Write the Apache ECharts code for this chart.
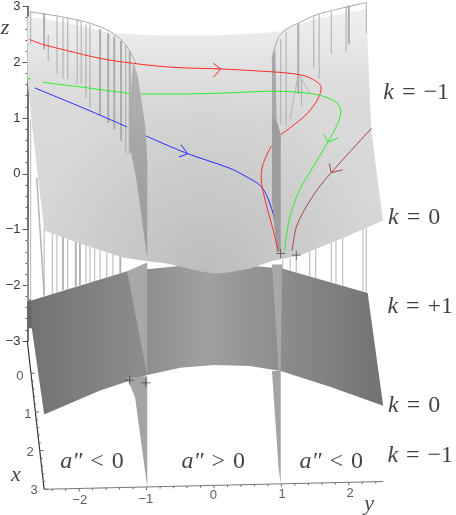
<!DOCTYPE html>
<html>
<head>
<meta charset="utf-8">
<style>
  html, body { margin: 0; padding: 0; background: #fff; }
  #chart { width: 456px; height: 515px; }
</style>
</head>
<body>
<div id="chart"></div>
<script src="https://cdn.jsdelivr.net/npm/echarts@6/dist/echarts.min.js"></script>
<script>
// every point below is [y, z]

const zTicks = [-3, -2, -1, 0, 1, 2, 3]
const yTickLabels = [['\u22122', -1.99, -5.86], ['\u22121', -1.01, -5.84], ['0', -0.01, -5.77], ['1', 1.01, -5.75], ['2', 2.02, -5.73]]
const xTickLabels = [['0', -2.88, -3.63], ['1', -2.76, -4.32], ['2', -2.73, -5.0], ['3', -2.67, -5.68]]
const yMajorTicks = [-2, -1, 0, 1, 2]
const yMinorTicks = [-2.4, -2.2, -1.8, -1.6, -1.4, -1.2, -0.8, -0.6, -0.4, -0.2, 0.2, 0.4, 0.6, 0.8, 1.2, 1.4, 1.6, 1.8, 2.2, 2.4]
const xMajorTicks = [0, 1, 2, 3]
const xMinorTicks = [0.2, 0.4, 0.6, 0.8, 1.2, 1.4, 1.6, 1.8, 2.2, 2.4, 2.6, 2.8]

const upperSurface = [
  [-2.77, 2.82], [-2.14, 2.70], [-1.54, 2.52], [-0.80, 2.48], [0, 2.48], [0.68, 2.52], [0.95, 2.55], [1.54, 2.79], [2.26, 2.95],
  [2.33, 0.82], [2.42, -0.04], [2.51, -0.84],
  [1.94, -1.14], [1.28, -1.46], [0.85, -1.57], [0.53, -1.70], [0.21, -1.77], [0, -1.79], [-0.21, -1.75], [-0.70, -1.61], [-0.99, -1.57], [-1.35, -1.50], [-1.99, -1.25], [-2.52, -1.02],
  [-2.69, 0.77], [-2.77, 1.71]
]
const lowerSurface = [
  [-2.76, -2.29], [-1.29, -1.75], [0, -1.59], [1.01, -1.70], [2.28, -2.14],
  [2.51, -4.16], [1.72, -3.82], [0.99, -3.54], [0.53, -3.45], [0, -3.43], [-0.50, -3.48], [-0.99, -3.61], [-1.69, -3.89], [-2.52, -4.32]
]
const lowerSliver = [[-2.77, -2.32], [-2.72, -2.23], [-2.70, -2.77], [-2.77, -2.77]]

const leftFinUpper = [[-1.20, 2.02], [-1.13, 1.75], [-1.02, 0.86], [-0.99, 0.23], [-0.99, -1.52], [-1.16, -0.04], [-1.25, 0.50], [-1.26, 1.13]]
const leftFinMiddle = [[-1.29, -1.75], [-0.99, -1.59], [-0.99, -3.61]]
const leftFinTip = [[-1.29, -3.66], [-0.99, -3.63], [-0.99, -5.63], [-1.17, -4.02]]
const rightFinStrip = [[0.86, 2.07], [0.91, 2.25], [0.92, 1.48], [0.93, 0.95], [0.86, 0.95]]
const rightFinUpper = [[0.86, 1.0], [0.93, 0.95], [0.99, 0.71], [0.99, -1.41], [0.93, -1.41], [0.86, -0.48]]
const rightFinMiddle = [[0.86, -1.63], [1.01, -1.63], [0.99, -3.55], [0.96, -3.55]]
const rightFinTip = [[0.86, -3.54], [0.99, -3.54], [0.99, -5.55], [0.96, -5.30]]

const leftOutline = [[-2.77, 2.91], [-2.28, 2.82], [-1.84, 2.70], [-1.54, 2.55], [-1.36, 2.38], [-1.25, 2.20], [-1.16, 1.98]]
const rightOutline = [[0.86, 2.07], [0.95, 2.43], [1.07, 2.59], [1.25, 2.70], [1.54, 2.86], [2.26, 3.07]]

// [y, top z, bottom z]
const upperHairs = [
  [-2.72, 2.91, 2.32], [-2.46, 2.50, 2.02], [-2.33, 2.82, 1.80], [-2.24, 2.79, 1.71], [-2.17, 2.79, 1.70],
  [-2.03, 2.77, 1.61], [-1.97, 2.73, 1.61], [-1.90, 2.68, 1.36], [-1.84, 2.68, 1.18],
  [-1.31, 2.29, 0.36],
  [0.99, 2.41, 0.89], [1.07, 2.55, 0.86], [1.30, 1.71, 1.21], [1.48, 2.82, 1.89],
  [1.56, 2.86, 1.71], [1.74, 2.91, 2.16], [1.96, 3.0, 2.20], [2.26, 3.07, 2.52]
]
const thickHairs = [
  [-2.52, 2.88, 2.23], [-1.69, 2.59, 1.04], [-1.57, 2.52, 0.91], [-1.48, 2.46, 0.80], [-1.38, 2.38, 0.59],
  [-1.25, 2.20, 0.36], [1.25, 2.70, 1.43], [2.00, 3.02, 2.32]
]
const lowerHairs = [
  [-2.76, -1.02, -2.29], [-2.72, 0.98, -2.25], [-2.52, -0.98, -2.20], [-2.40, -1.07, -2.16], [-2.33, -1.09, -2.13],
  [-2.17, -1.16, -2.07], [-1.90, -1.27, -1.96], [-1.84, -1.30, -1.95], [-1.77, -1.32, -1.93], [-1.69, -1.36, -1.89],
  [-1.59, -1.39, -1.86], [-1.50, -1.43, -1.82],
  [1.02, -1.55, -1.70], [1.13, -1.52, -1.73], [1.22, -1.48, -1.77], [1.42, -1.39, -1.84], [1.51, -1.34, -1.88],
  [1.74, -1.23, -1.95], [1.81, -1.20, -1.98], [1.91, -1.14, -2.02], [2.21, -0.98, -2.11], [2.26, -0.96, -2.13]
]
const lowerThickHairs = [[-2.24, -1.13, -2.09], [-2.05, -1.21, -2.02], [-1.99, -1.23, -2.00], [-1.39, -1.46, -1.79]]
const leaningHairA = [[1.25, 1.79], [1.42, 1.45]]
const leaningHairB = [[1.25, 1.79], [1.13, 1.00]]
const leaningHairC = [[-2.63, -0.07], [-2.52, -2.18]]

const redStart = [
  [-2.74, 2.41], [-2.54, 2.32], [-2.18, 2.21], [-1.69, 2.07], [-1.20, 1.98], [-0.61, 1.91], [0.09, 1.88], [0.70, 1.84], [1.20, 1.79],
  [1.44, 1.71], [1.59, 1.54], [1.54, 1.34], [1.39, 1.09], [1.20, 0.89], [0.99, 0.70]
]
const redEnd = [[0.85, 0.50], [0.73, 0.18], [0.70, -0.07], [0.76, -0.48], [0.88, -1.02], [0.95, -1.38]]
const greenStub = [[-2.76, 1.71], [-2.72, 1.70]]
const greenMain = [
  [-2.54, 1.64], [-1.94, 1.55], [-1.50, 1.48], [-1.10, 1.43], [-0.61, 1.43], [0.21, 1.45], [0.85, 1.48], [1.35, 1.45], [1.65, 1.38],
  [1.84, 1.25], [1.88, 1.09], [1.84, 0.91], [1.69, 0.57], [1.50, 0.18], [1.28, -0.27], [1.14, -0.71], [1.07, -1.14], [1.05, -1.38]
]
const blueStart = [[-2.66, 1.54], [-1.94, 1.18], [-1.29, 0.84]]
const blueEnd = [[-1.07, 0.71], [-0.39, 0.36], [0.21, 0.11], [0.46, -0.04], [0.70, -0.23], [0.83, -0.54], [0.91, -0.89], [0.96, -1.34]]
const brownCurve = [[2.34, 0.82], [2.03, 0.41], [1.74, 0.02], [1.54, -0.27], [1.35, -0.63], [1.22, -0.96], [1.16, -1.38]]

const redArrow = [[-0.01, 1.98], [0.10, 1.88], [-0.01, 1.73]]
const blueArrow = [[-0.49, 0.52], [-0.39, 0.36], [-0.52, 0.30]]
const greenArrow = [[1.63, 0.71], [1.69, 0.57], [1.84, 0.64]]
const brownArrow = [[1.71, 0.18], [1.74, 0.02], [1.91, 0.07]]

const crossings = [[0.99, -1.43], [1.22, -1.46], [-1.25, -3.70], [-1.01, -3.75]]

const mathLabels = [
  ['{i|k}{r|\u2004=\u2004\u22121}', 3.0, 1.46], ['{i|k}{r|\u2004=\u20040}', 2.97, -0.79], ['{i|k}{r|\u2004=\u2004+1}', 3.06, -2.39],
  ['{i|k}{r|\u2004=\u20040}', 2.97, -4.16], ['{i|k}{r|\u2004=\u2004\u22121}', 3.06, -5.05],
  ['{i|a\u2033}{r|\u2004<\u20040}', -1.81, -5.16], ['{i|a\u2033}{r|\u2004>\u20040}', -0.01, -5.16], ['{i|a\u2033}{r|\u2004<\u20040}', 1.74, -5.16]
]
const axisNames = [['z', -3.1, 2.61], ['x', -2.94, -5.41], ['y', 2.30, -5.93]]

const bottomAxisLine = [[-2.52, -5.66], [2.51, -5.52]]
const depthAxisLine = [[-2.77, -3.0], [-2.52, -5.66]]

// the two tilted axes have no echarts axis, ticks are placed along them
const bottomPoint = y => [y, -5.66 + (y + 2.5) * 0.028]
const depthPoint = d => [-2.72 + d * 0.066, -3.58 - d * 0.693]

const chart = echarts.init(document.getElementById('chart'))
let order = 1

function polygon(name, points, fill) {
  return {
    type: 'custom',
    name: name,
    z: order++,
    silent: true,
    data: points,
    renderItem(params, api) {
      if (params.dataIndex !== 0) return
      return {
        type: 'polygon',
        shape: { points: points.map(p => api.coord(p)) },
        style: { fill: fill }
      }
    }
  }
}

function hairs(name, rows, color, width) {
  return {
    type: 'custom',
    name: name,
    z: order++,
    silent: true,
    data: rows,
    encode: { x: 0, y: [1, 2] },
    renderItem(params, api) {
      const a = api.coord([api.value(0), api.value(1)])
      const b = api.coord([api.value(0), api.value(2)])
      return {
        type: 'line',
        shape: { x1: a[0], y1: a[1], x2: b[0], y2: b[1] },
        style: { stroke: color, lineWidth: width }
      }
    }
  }
}

function curve(name, points, color, width, smooth) {
  return {
    type: 'line',
    name: name,
    z: order++,
    silent: true,
    clip: false,
    animation: false,
    data: points,
    showSymbol: false,
    smooth: smooth,
    lineStyle: { color: color, width: width }
  }
}

function ticks(name, points, dx, dy) {
  return {
    type: 'custom',
    name: name,
    z: order++,
    silent: true,
    data: points,
    renderItem(params, api) {
      const a = api.coord([api.value(0), api.value(1)])
      return {
        type: 'line',
        shape: { x1: a[0], y1: a[1], x2: a[0] + dx, y2: a[1] + dy },
        style: { stroke: '#666', lineWidth: 1 }
      }
    }
  }
}

function textLabels(name, rows, label) {
  return {
    type: 'scatter',
    name: name,
    z: order++,
    silent: true,
    clip: false,
    animation: false,
    symbolSize: 0,
    data: rows.map(r => ({ value: [r[1], r[2]], text: r[0] })),
    label: Object.assign({
      show: true,
      position: 'inside',
      formatter: p => p.data.text
    }, label)
  }
}

const upperFill = new echarts.graphic.LinearGradient(0, 0, 0, 1, [
  { offset: 0, color: '#efefef' },
  { offset: 0.09, color: '#ebebeb' },
  { offset: 0.17, color: '#e4e4e4' },
  { offset: 0.26, color: '#dedede' },
  { offset: 0.4, color: '#d9d9d9' },
  { offset: 1, color: '#d8d8d8' }
])
const upperShade = new echarts.graphic.RadialGradient(0.5, 1, 0.72, [
  { offset: 0, color: 'rgba(0,0,0,0.13)' },
  { offset: 1, color: 'rgba(0,0,0,0)' }
])
const lowerFill = new echarts.graphic.LinearGradient(0, 0, 1, 0, [
  { offset: 0, color: '#727272' },
  { offset: 0.3, color: '#8a8a8a' },
  { offset: 0.5, color: '#a0a0a0' },
  { offset: 0.72, color: '#8c8c8c' },
  { offset: 1, color: '#727272' }
])
const finFill = new echarts.graphic.LinearGradient(0, 0, 0, 1, [
  { offset: 0, color: '#b4b4b4' },
  { offset: 0.5, color: '#a4a4a4' },
  { offset: 1, color: '#9a9a9a' }
])

const serif = 'Liberation Serif'
const sans = 'Liberation Sans'

chart.setOption({
  animation: false,
  backgroundColor: '#fff',
  // x range is wide enough to hold the marks left of the drawn axis, line series stop at the grid edge otherwise
  grid: { left: 5.06, right: 12.84, top: 5, bottom: 174 },
  xAxis: { type: 'value', min: -3.1, max: 3.4, show: false },
  yAxis: {
    type: 'value',
    min: zTicks[0],
    max: zTicks[zTicks.length - 1],
    interval: 1,
    offset: -22.44,
    axisLine: { show: true, onZero: false, lineStyle: { color: '#444', width: 1.5 } },
    axisTick: { show: true, length: 5, lineStyle: { color: '#555' } },
    minorTick: { show: true, splitNumber: 5, length: 2, lineStyle: { color: '#555' } },
    splitLine: { show: false },
    axisLabel: {
      margin: 7,
      fontFamily: sans,
      fontSize: 13,
      color: '#333',
      showMinLabel: true,
      showMaxLabel: true,
      formatter: v => String(v).replace('-', '\u2212')
    }
  },
  series: [
    hairs('lower hairs', lowerHairs, '#b4b4b4', 1),
    hairs('lower thick hairs', lowerThickHairs, '#b4b4b4', 2),
    curve('lean c', leaningHairC, '#b4b4b4', 1.5, false),
    polygon('k=+1 surface', lowerSurface, lowerFill),
    polygon('sliver', lowerSliver, '#666666'),
    polygon('left fin middle', leftFinMiddle, '#a8a8a8'),
    polygon('right fin middle', rightFinMiddle, '#a8a8a8'),
    polygon('left fin tip', leftFinTip, '#a4a4a4'),
    polygon('right fin tip', rightFinTip, '#a4a4a4'),
    polygon('k=-1 surface', upperSurface, upperFill),
    polygon('k=-1 shade', upperSurface, upperShade),
    curve('left outline', leftOutline, '#a8a8a8', 1, 0.3),
    curve('right outline', rightOutline, '#a8a8a8', 1, 0.3),
    hairs('upper hairs', upperHairs, '#acacac', 1),
    hairs('thick hairs', thickHairs, '#acacac', 2),
    curve('lean a', leaningHairA, '#b4b4b4', 1, false),
    curve('lean b', leaningHairB, '#b4b4b4', 1, false),
    polygon('right fin strip', rightFinStrip, '#a8a8a8'),
    curve('red', redStart, '#ff2a2a', 1, 0.35),
    curve('green', greenMain, '#2cee2c', 1, 0.35),
    curve('green stub', greenStub, '#2cee2c', 1, false),
    curve('blue', blueStart, '#2a2aff', 1, 0.3),
    curve('blue', blueEnd, '#2a2aff', 1, 0.35),
    curve('brown', brownCurve, '#a84444', 1, 0.3),
    polygon('left fin upper', leftFinUpper, finFill),
    polygon('right fin upper', rightFinUpper, '#9c9c9c'),
    curve('red', redEnd, '#ff2a2a', 1, 0.35),
    curve('red arrow', redArrow, '#ff2a2a', 1, false),
    curve('blue arrow', blueArrow, '#2a2aff', 1, false),
    curve('green arrow', greenArrow, '#2cee2c', 1, false),
    curve('brown arrow', brownArrow, '#a84444', 1, false),
    {
      type: 'scatter',
      name: 'crossings',
      z: order++,
      silent: true,
      clip: false,
      symbol: 'path://M4.6 0H5.4V4.6H10V5.4H5.4V10H4.6V5.4H0V4.6H4.6Z',
      symbolSize: 9,
      itemStyle: { color: '#222' },
      data: crossings
    },
    curve('y axis', bottomAxisLine, '#777', 1, false),
    curve('x axis', depthAxisLine, '#333', 1.2, false),
    ticks('y major', yMajorTicks.map(bottomPoint), 0, 3),
    ticks('y minor', yMinorTicks.map(bottomPoint), 0, 2),
    ticks('x major', xMajorTicks.map(depthPoint), 4, 0),
    ticks('x minor', xMinorTicks.map(depthPoint), 2, 0),
    textLabels('y ticks', yTickLabels, { fontFamily: sans, fontSize: 13, color: '#333' }),
    textLabels('x ticks', xTickLabels, { fontFamily: sans, fontSize: 13, color: '#333' }),
    textLabels('axis names', axisNames, { fontFamily: serif, fontStyle: 'italic', fontSize: 22, color: '#111' }),
    textLabels('math', mathLabels, {
      rich: {
        i: { fontFamily: serif, fontStyle: 'italic', fontSize: 24, color: '#111' },
        r: { fontFamily: serif, fontSize: 24, color: '#111' }
      }
    })
  ]
})
</script>
</body>
</html>
